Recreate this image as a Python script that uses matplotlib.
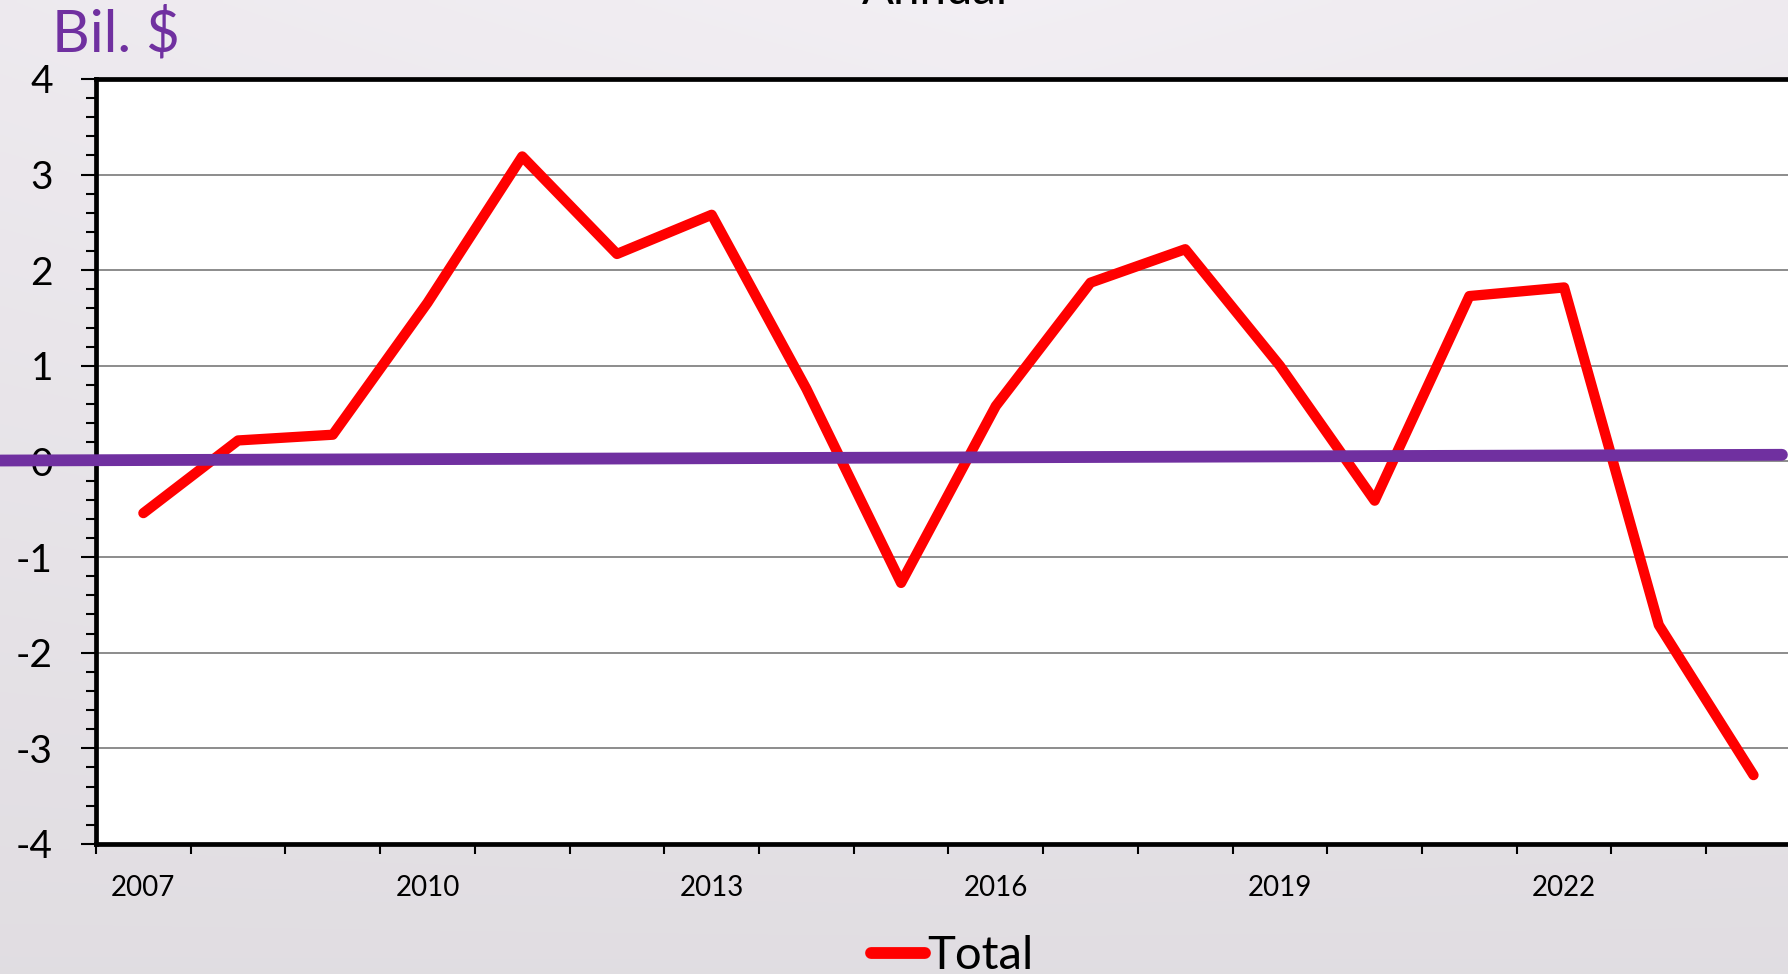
import numpy as np
import matplotlib.pyplot as plt
from matplotlib.lines import Line2D
from matplotlib.ticker import MultipleLocator, FixedLocator

plt.rcParams['font.family'] = ['Lato', 'DejaVu Sans']

# data
years = np.arange(2007, 2025)
total = [-0.54, 0.22, 0.28, 1.66, 3.19, 2.17, 2.58, 0.76, -1.27, 0.58,
         1.87, 2.22, 1.00, -0.41, 1.73, 1.82, -1.71, -3.28]
label_years = [2007, 2010, 2013, 2016, 2019, 2022]
ref_x = [2005.49, 2024.3]
ref_y = [0.01, 0.07]

fig = plt.figure(figsize=(17.88, 9.74), dpi=100)

# background gradient
bg = fig.add_axes([0, 0, 1, 1], zorder=-10)
yy, xx = np.mgrid[0:1:200j, 0:1:300j]
light = 0.965 - 0.07 * yy - 0.035 * np.abs(xx - 0.55) * (1 - yy)
img = np.dstack([light * 0.985, light * 0.97, light * 0.99])
bg.imshow(np.clip(img, 0, 1), aspect='auto', extent=[0, 1, 0, 1], interpolation='bilinear')
bg.axis('off')

ax = fig.add_axes([0.0537, 0.1335, 0.9535, 0.7854])
ax.set_facecolor('white')

ax.plot(years, total, color='#FF0000', lw=7.4, solid_joinstyle='round',
        solid_capstyle='round', zorder=3)
ax.plot(ref_x, ref_y, color='#7030A0', lw=8.5, solid_capstyle='round',
        clip_on=False, zorder=4)

ax.set_xlim(2006.5, 2024.5)
ax.set_ylim(-4, 4)

ax.yaxis.set_minor_locator(MultipleLocator(0.2))
ax.set_yticks(np.arange(-4, 5, 1))
ax.set_yticklabels([str(v) for v in range(-4, 5)])
ax.tick_params(axis='y', which='major', direction='out', length=11, width=1.5,
               labelsize=28, pad=20)
ax.tick_params(axis='y', which='minor', direction='out', length=7, width=1.5)

ax.xaxis.set_major_locator(FixedLocator(np.arange(2006.5, 2025, 1)))
ax.xaxis.set_minor_locator(FixedLocator(label_years))
ax.xaxis.set_major_formatter(plt.NullFormatter())
ax.xaxis.set_minor_formatter(plt.FuncFormatter(lambda v, p: str(int(round(v)))))
ax.tick_params(axis='x', which='major', direction='out', length=7, width=1.5)
ax.tick_params(axis='x', which='minor', length=0, labelsize=20, pad=22)

ax.grid(axis='y', which='major', color='#8C8C8C', lw=1.4, zorder=1)
ax.set_axisbelow(True)

for s in ['left', 'bottom', 'top']:
    ax.spines[s].set_linewidth(3.4)
    ax.spines[s].set_color('black')
ax.spines['right'].set_visible(False)

fig.text(0.029, 0.947, 'Bil. $', color='#7030A0', fontsize=42, va='baseline')
fig.text(0.523, 1 - 4 / 974, 'Annual', fontsize=34, ha='center', va='baseline')

handle = Line2D([], [], color='#FF0000', lw=8.5, solid_capstyle='round')
fig.legend([handle], ['Total'], loc='center left', bbox_to_anchor=(0.487, 0.018),
           frameon=False, fontsize=34, handlelength=1.15, handletextpad=0.05,
           borderpad=0, borderaxespad=0)

fig.savefig('out.png', dpi=100)
